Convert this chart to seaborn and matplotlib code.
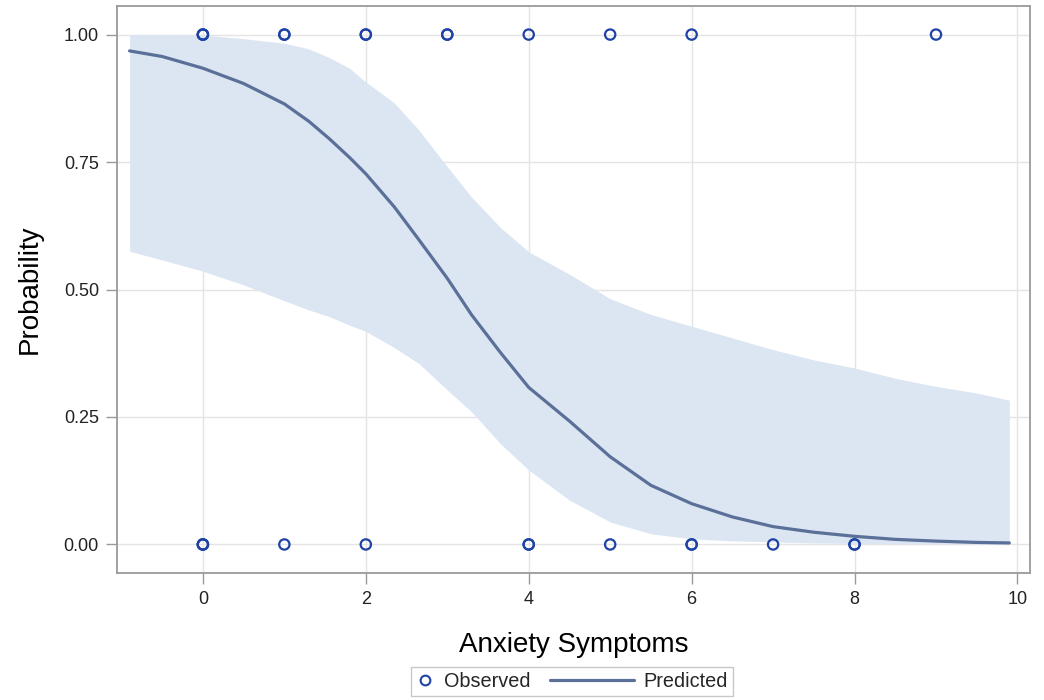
import numpy as np
import pandas as pd
import matplotlib
matplotlib.use("Agg")
import matplotlib.pyplot as plt
import seaborn as sns
from matplotlib.lines import Line2D
from matplotlib.legend_handler import HandlerLine2D

# ---- data ----
curve_x = [-0.9, -0.5, 0.0, 0.5, 1.0, 1.3, 1.55, 1.8, 2.0, 2.35, 2.65, 3.0,
           3.3, 3.65, 4.0, 4.5, 5.0, 5.5, 6.0, 6.5, 7.0, 7.5, 8.0, 8.5, 9.0,
           9.5, 9.9]
predicted = [0.968, 0.957, 0.934, 0.904, 0.864, 0.830, 0.796, 0.759, 0.727,
             0.662, 0.598, 0.522, 0.450, 0.377, 0.308, 0.242, 0.172, 0.116,
             0.080, 0.054, 0.035, 0.024, 0.016, 0.010, 0.0066, 0.004, 0.003]
lower_cl = [0.575, 0.558, 0.536, 0.509, 0.478, 0.460, 0.447, 0.430, 0.418,
            0.386, 0.355, 0.303, 0.260, 0.198, 0.146, 0.087, 0.044, 0.021,
            0.011, 0.007, 0.005, 0.003, 0.002, 0.001, 0.001, 0.001, 0.001]
upper_cl = [1.000, 1.000, 0.999, 0.992, 0.983, 0.972, 0.955, 0.934, 0.907,
            0.866, 0.813, 0.741, 0.681, 0.622, 0.574, 0.530, 0.482, 0.451,
            0.428, 0.405, 0.382, 0.362, 0.346, 0.326, 0.310, 0.297, 0.283]

obs_x = [0, 0, 0, 1, 1, 2, 2, 3, 3, 4, 5, 6, 9,
         0, 0, 0, 1, 2, 4, 4, 5, 6, 6, 7, 8, 8]
obs_y = [1, 1, 1, 1, 1, 1, 1, 1, 1, 1, 1, 1, 1,
         0, 0, 0, 0, 0, 0, 0, 0, 0, 0, 0, 0, 0]

x_ticks = [0, 2, 4, 6, 8, 10]
y_ticks = [0.0, 0.25, 0.5, 0.75, 1.0]
y_ticklabels = ["0.00", "0.25", "0.50", "0.75", "1.00"]

# ---- styling ----
sns.set_style("white")
plt.rcParams["font.family"] = ["Liberation Sans", "DejaVu Sans"]

band_color = "#DCE6F2"
line_color = "#5B7099"
marker_color = "#1F42A6"
grid_color = "#E4E4E4"
frame_color = "#9A9A9A"

fig = plt.figure(figsize=(10.44, 7), dpi=100)
ax = fig.add_axes([0.1121, 0.1814, 0.8745, 0.81])

curve = pd.DataFrame({"x": curve_x, "pred": predicted,
                      "lo": lower_cl, "hi": upper_cl})
obs = pd.DataFrame({"x": obs_x, "y": obs_y})

ax.fill_between(curve["x"], curve["lo"], curve["hi"], color=band_color,
                linewidth=0, zorder=1)
sns.lineplot(data=curve, x="x", y="pred", ax=ax, color=line_color,
             linewidth=2.3, zorder=3, legend=False)
sns.scatterplot(data=obs, x="x", y="y", ax=ax, marker="o", s=55,
                facecolor="none", edgecolor=marker_color, linewidth=1.6,
                zorder=4, legend=False)

ax.set_xlim(-1.054, 10.154)
ax.set_ylim(-0.056, 1.056)
ax.set_xticks(x_ticks)
ax.set_yticks(y_ticks)
ax.set_yticklabels(y_ticklabels)

ax.grid(True, color=grid_color, linewidth=1.0, zorder=0)
ax.set_axisbelow(True)
for s in ax.spines.values():
    s.set_color(frame_color)
    s.set_linewidth(1.3)

ax.tick_params(axis="both", which="major", length=8, width=1.0,
               color=frame_color, labelsize=13, labelcolor="#222222", pad=5,
               bottom=True, left=True)

ax.set_xlabel("Anxiety Symptoms", fontsize=20, color="black")
ax.set_ylabel("Probability", fontsize=20, color="black")
ax.xaxis.set_label_coords(0.5, -0.104)
ax.yaxis.set_label_coords(-0.081, 0.5)


class LongLineHandler(HandlerLine2D):
    """Draws the legend line longer, extending to the left of its box."""
    def create_artists(self, legend, orig_handle, xdescent, ydescent,
                       width, height, fontsize, trans):
        ext = 3.3 * fontsize
        y = height / 2.0 - ydescent
        line = Line2D([-xdescent - ext, -xdescent + width], [y, y])
        self.update_prop(line, orig_handle, legend)
        line.set_marker("")
        line.set_transform(trans)
        return [line]


obs_handle = Line2D([], [], linestyle="none", marker="o", markersize=7,
                    markerfacecolor="none", markeredgecolor=marker_color,
                    markeredgewidth=1.5, label="Observed")
pred_handle = Line2D([], [], color=line_color, linewidth=2.3,
                     label="Predicted")
leg = fig.legend(handles=[obs_handle, pred_handle], loc="center",
                 bbox_to_anchor=(0.548, 0.026), ncol=2, fontsize=14.3,
                 frameon=True, fancybox=False, handlelength=0.9,
                 handletextpad=0.5, columnspacing=4.3, borderpad=0.25,
                 borderaxespad=0,
                 handler_map={pred_handle: LongLineHandler()})
leg.get_frame().set_edgecolor("#BBBBBB")
leg.get_frame().set_linewidth(1.0)

fig.savefig("out.png", dpi=100)
